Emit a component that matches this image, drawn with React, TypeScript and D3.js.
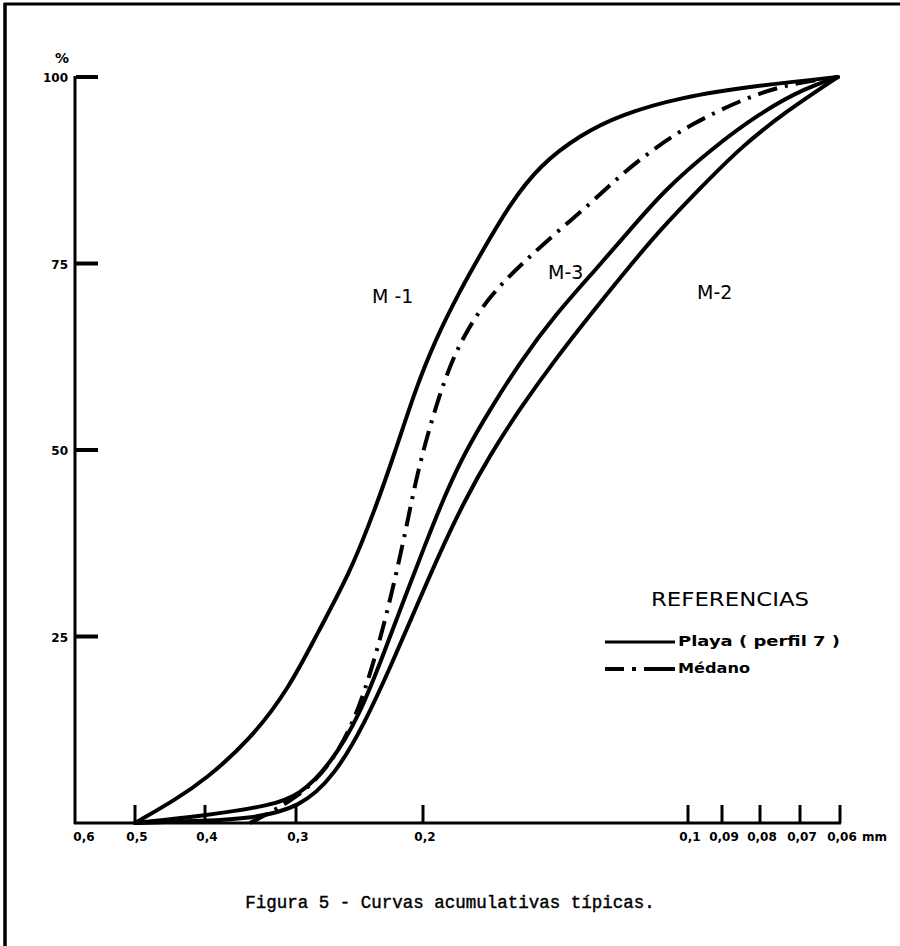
import React from 'react';
import * as d3 from 'd3';

// grain size (mm) ticks on the bottom axis, reversed log axis
const sizeTicks = [0.5, 0.4, 0.3, 0.2, 0.1, 0.09, 0.08, 0.07, 0.06];
const sizeLabels = ['0,5', '0,4', '0,3', '0,2', '0,1', '0,09', '0,08', '0,07', '0,06'];
const pctTicks = [25, 50, 75, 100];

// Playa M-1
const m1Size = [0.5, 0.44, 0.4, 0.347, 0.306, 0.28, 0.2525, 0.2332, 0.2187, 0.2051, 0.1938, 0.1815, 0.1723, 0.1593, 0.1473, 0.1327, 0.1195, 0.1021, 0.08, 0.0605];
const m1Pct = [0, 3.1, 5.8, 11.1, 18.2, 25.5, 33.5, 42, 49.7, 58, 64.7, 71.4, 76.1, 83, 88.2, 92.2, 94.9, 97.3, 98.9, 100];

// Playa M-3
const m3Size = [0.5, 0.4, 0.3257, 0.2962, 0.2692, 0.2445, 0.2258, 0.2118, 0.1989, 0.1888, 0.1792, 0.1679, 0.1551, 0.1416, 0.1275, 0.1164, 0.1062, 0.0934, 0.08, 0.0687, 0.0605];
const m3Pct = [0, 1, 2.3, 3.75, 7.8, 14.5, 23.2, 30.3, 37.3, 44, 49.7, 55.4, 61.8, 68.1, 74.1, 79.5, 84.9, 90.2, 95.2, 98.5, 100];

// Playa M-2
const m2Size = [0.5, 0.4, 0.347, 0.2962, 0.2649, 0.2406, 0.2222, 0.2051, 0.1913, 0.1792, 0.1679, 0.1551, 0.1416, 0.1292, 0.1179, 0.1076, 0.0963, 0.0851, 0.0736, 0.0605];
const m2Pct = [0, 0.3, 0.6, 2, 6.4, 13.5, 20.8, 28.6, 36.3, 43.3, 49.3, 55.6, 62.1, 68.1, 73.9, 79.5, 85.1, 90.5, 95.3, 100];

// Médano
const medSize = [0.347, 0.2962, 0.2692, 0.2525, 0.2406, 0.2294, 0.2187, 0.2099, 0.2019, 0.1888, 0.1787, 0.167, 0.1543, 0.1416, 0.1292, 0.1189, 0.109, 0.0994, 0.0838, 0.0724, 0.0605];
const medPct = [0, 3.5, 7.8, 12.5, 17.8, 24.5, 32.6, 40.6, 48.7, 60, 66, 71, 75, 79, 83, 87, 90.5, 93.6, 97.2, 99.1, 100];

const sans = '"DejaVu Sans", Verdana, sans-serif';

export default function App() {
  const width = 900;
  const height = 946;

  // hand-drawn axis: piecewise log scale through the printed ticks
  const x = d3.scaleLog()
    .domain([0.6, 0.5, 0.4, 0.3, 0.2, 0.1, 0.09, 0.08, 0.07, 0.06])
    .range([76, 135, 205, 296, 423, 688, 722, 760, 800, 840]);
  const y = d3.scaleLinear().domain([0, 100]).range([823, 77]);

  const line = d3.line<[number, number]>()
    .x(d => x(d[0]))
    .y(d => y(d[1]))
    .curve(d3.curveBasis);

  const zip = (s: number[], p: number[]) => s.map((v, i) => [v, p[i]] as [number, number]);

  const solids = [zip(m1Size, m1Pct), zip(m3Size, m3Pct), zip(m2Size, m2Pct)];
  const medano = zip(medSize, medPct);

  return (
    <svg width={width} height={height} style={{ display: 'block', position: 'absolute', left: 0, top: 0, background: '#fff' }}>
      {/* scan frame */}
      <line x1={4} x2={900} y1={4} y2={4} stroke="#000" strokeWidth={3} />
      <line x1={5} x2={5} y1={3} y2={946} stroke="#000" strokeWidth={3.5} />

      {/* axes */}
      <line x1={x(0.6) - 1} x2={x(0.6) - 1} y1={y(100) - 1} y2={y(0) + 1} stroke="#000" strokeWidth={3} />
      <line x1={x(0.6) - 2} x2={x(0.06) + 1} y1={y(0)} y2={y(0)} stroke="#000" strokeWidth={3} />

      {pctTicks.map(t => (
        <g key={t}>
          <line x1={x(0.6)} x2={x(0.6) + 22} y1={y(t)} y2={y(t)} stroke="#000" strokeWidth={4} />
          <text x={x(0.6) - 8} y={y(t) + 5} textAnchor="end" fontFamily={sans} fontWeight="bold" fontSize={12}>{t}</text>
        </g>
      ))}
      <text x={62} y={63} textAnchor="middle" fontFamily={sans} fontWeight="bold" fontSize={14}>%</text>

      {sizeTicks.map((t, i) => (
        <g key={t}>
          <line x1={x(t)} x2={x(t)} y1={y(0)} y2={y(0) - 18} stroke="#000" strokeWidth={3} />
          <text x={x(t) + 2} y={y(0) + 18} textAnchor="middle" fontFamily={sans} fontWeight="bold" fontSize={12}>{sizeLabels[i]}</text>
        </g>
      ))}
      <text x={x(0.6) + 8} y={y(0) + 18} textAnchor="middle" fontFamily={sans} fontWeight="bold" fontSize={12}>0,6</text>
      <text x={x(0.06) + 22} y={y(0) + 18} textAnchor="start" fontFamily={sans} fontWeight="bold" fontSize={12}>mm</text>

      {/* curves */}
      {solids.map((d, i) => (
        <path key={i} d={line(d) || ''} fill="none" stroke="#000" strokeWidth={4} strokeLinecap="round" />
      ))}
      <path d={line(medano) || ''} fill="none" stroke="#000" strokeWidth={4} strokeDasharray="20 8 3 8" />

      {/* curve labels */}
      <text x={372} y={303} fontFamily={sans} fontSize={19}>M -1</text>
      <text x={548} y={279} fontFamily={sans} fontSize={19}>M-3</text>
      <text x={697} y={299} fontFamily={sans} fontSize={19}>M-2</text>

      {/* legend */}
      <text x={651} y={606} fontFamily={sans} fontSize={20} textLength={158} lengthAdjust="spacingAndGlyphs">REFERENCIAS</text>
      <line x1={605} x2={675} y1={642} y2={642} stroke="#000" strokeWidth={3} />
      <text x={678} y={646} fontFamily={sans} fontWeight="bold" fontSize={14} textLength={162} lengthAdjust="spacingAndGlyphs">Playa ( perfil 7 )</text>
      <path d="M605,669 H624 M632,669 H636 M644,669 H675" stroke="#000" strokeWidth={4} />
      <text x={678} y={673} fontFamily={sans} fontWeight="bold" fontSize={14} textLength={72} lengthAdjust="spacingAndGlyphs">Médano</text>

      {/* caption */}
      <text x={450} y={908} textAnchor="middle" fontFamily='"Liberation Mono", "DejaVu Sans Mono", monospace' fontSize={17.5} stroke="#000" strokeWidth={0.4}>Figura 5 - Curvas acumulativas típicas.</text>
    </svg>
  );
}
